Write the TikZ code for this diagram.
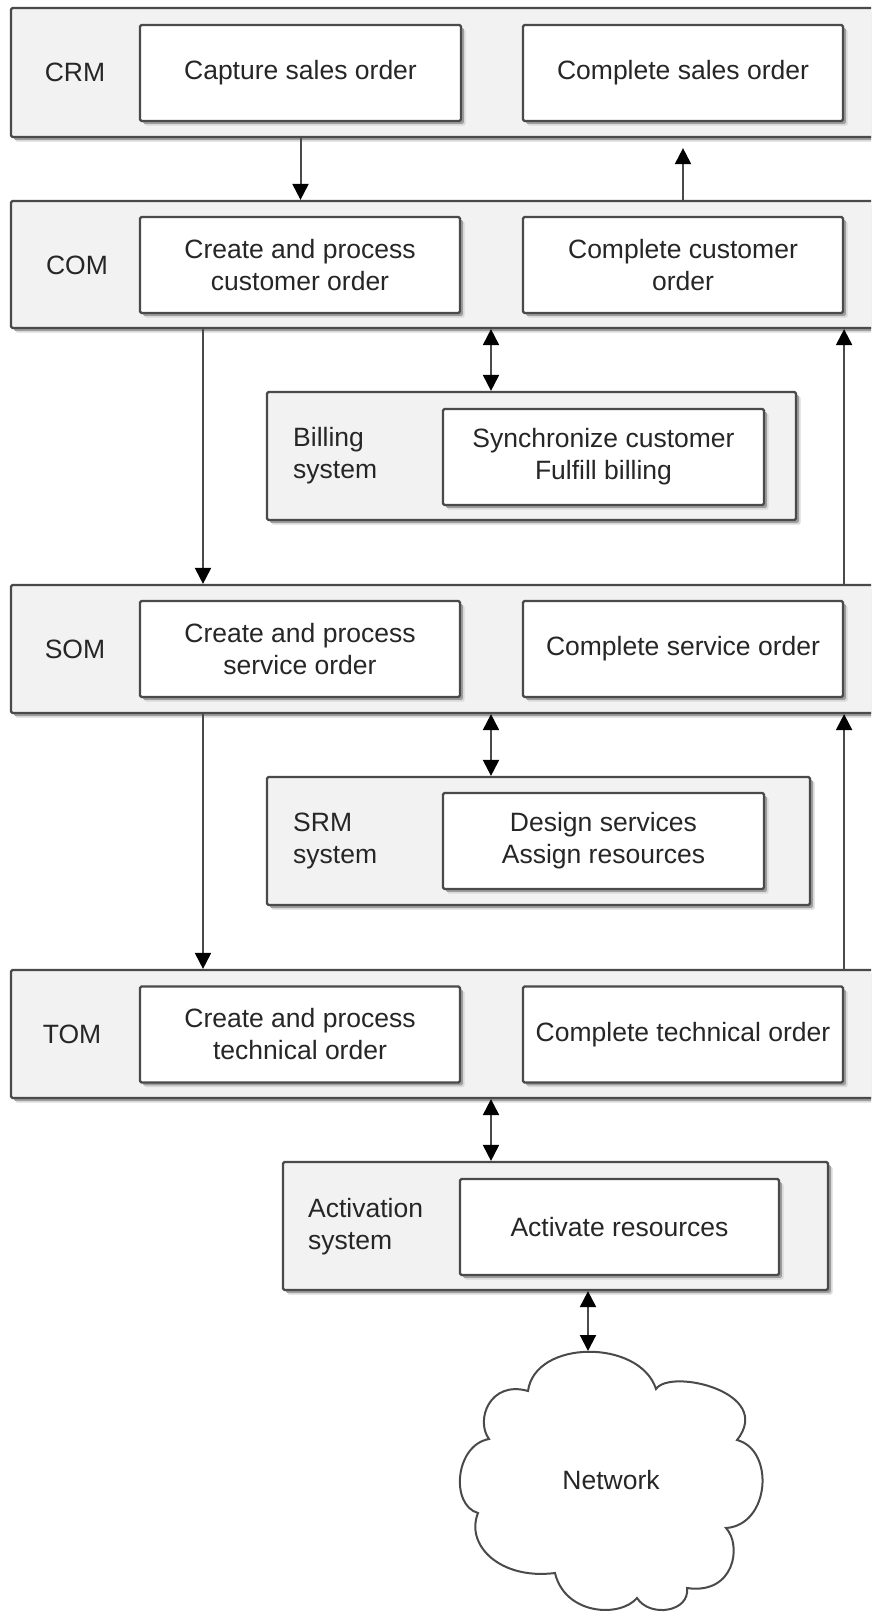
\documentclass[tikz,border=0pt]{standalone}
\usepackage{fontspec}
\setmainfont{Liberation Sans}
\usetikzlibrary{arrows.meta,shadows}
\definecolor{linec}{HTML}{4A4A4A}
\definecolor{outerfill}{HTML}{F2F2F2}
\definecolor{txt}{HTML}{262626}
\tikzset{
  base/.style={rectangle, inner sep=0pt, draw=linec, line width=2.2pt, rounded corners=1.5pt,
    drop shadow={shadow xshift=4.5pt, shadow yshift=-4.5pt, fill=black!15, opacity=1},
    drop shadow={shadow xshift=2.8pt, shadow yshift=-2.8pt, fill=black!38, opacity=1}},
  outerbox/.style={base, fill=outerfill},
  innerbox/.style={base, fill=white, text=txt, align=center, font=\fontsize{26.5}{32}\selectfont},
  lbl/.style={inner sep=0pt, text=txt, font=\fontsize{26.5}{32}\selectfont},
  tipstyle/.style={},
  arr/.style={draw=linec, line width=2pt, -{Triangle[length=16pt,width=16pt,fill=black,color=black]}},
  darr/.style={draw=linec, line width=2pt, {Triangle[length=16pt,width=16pt,fill=black,color=black]}-{Triangle[length=16pt,width=16pt,fill=black,color=black]}},
  cloudline/.style={draw=linec, line width=2pt, fill=white}
}
\begin{document}
\begin{tikzpicture}[x=1pt,y=-1pt]
\useasboundingbox (0,0) rectangle (871,1614);
\clip (0,0) rectangle (871,1614);
\fill[white] (0,0) rectangle (871,1614);

% CRM
\node[outerbox, minimum width=869pt, minimum height=129pt] (crm) at (445.5,72.5) {};
\node[lbl] (crml) at (75,72.5) {CRM};
\node[innerbox, minimum width=321pt, minimum height=96pt] (cap) at (300.5,73) {Capture sales order};
\node[innerbox, minimum width=320pt, minimum height=96pt] (csal) at (683,73) {Complete sales order};

% COM
\node[outerbox, minimum width=869pt, minimum height=127pt] (com) at (445.5,264.5) {};
\node[lbl] (coml) at (77,265) {COM};
\node[innerbox, minimum width=320pt, minimum height=96pt] (ccom) at (300,265) {Create and process\\customer order};
\node[innerbox, minimum width=320pt, minimum height=96pt] (ccus) at (683,265) {Complete customer\\order};

% Billing
\node[outerbox, minimum width=529pt, minimum height=128pt] (bill) at (531.5,456) {};
\node[lbl, anchor=west, align=left] (billl) at (293,456) {Billing\\system};
\node[innerbox, minimum width=321pt, minimum height=96pt] (billi) at (603.5,457) {Synchronize customer\\Fulfill billing};

% SOM
\node[outerbox, minimum width=869pt, minimum height=128pt] (som) at (445.5,649) {};
\node[lbl] (soml) at (75,649) {SOM};
\node[innerbox, minimum width=320pt, minimum height=96pt] (csom) at (300,649) {Create and process\\service order};
\node[innerbox, minimum width=320pt, minimum height=96pt] (csvc) at (683,649) {Complete service order};

% SRM
\node[outerbox, minimum width=543pt, minimum height=128pt] (srm) at (538.5,841) {};
\node[lbl, anchor=west, align=left] (srml) at (293,841) {SRM\\system};
\node[innerbox, minimum width=321pt, minimum height=96pt] (srmi) at (603.5,841) {Design services\\Assign resources};

% TOM
\node[outerbox, minimum width=869pt, minimum height=128pt] (tom) at (445.5,1034) {};
\node[lbl] (toml) at (72,1034) {TOM};
\node[innerbox, minimum width=320pt, minimum height=96pt] (ctom) at (300,1034.5) {Create and process\\technical order};
\node[innerbox, minimum width=320pt, minimum height=96pt] (ctec) at (683,1034.5) {Complete technical order};

% Activation
\node[outerbox, minimum width=545pt, minimum height=128pt] (act) at (555.5,1226) {};
\node[lbl, anchor=west, align=left] (actl) at (308,1227) {Activation\\system};
\node[innerbox, minimum width=319pt, minimum height=96pt] (acti) at (619.5,1227) {Activate resources};

% Network cloud
\draw[cloudline] (528,1391)
  .. controls (535,1339) and (640,1339) .. (656,1389)
  .. controls (670,1368) and (775,1392) .. (737,1440)
  .. controls (775,1450) and (770,1525) .. (726,1528)
  .. controls (742,1545) and (735,1595) .. (687,1588)
  .. controls (690,1612) and (650,1618) .. (637,1598)
  .. controls (620,1618) and (565,1615) .. (555,1573)
  .. controls (500,1580) and (465,1545) .. (478,1513)
  .. controls (450,1505) and (455,1445) .. (489,1439)
  .. controls (475,1420) and (490,1380) .. (528,1391) -- cycle;
\coordinate (cloudtop) at (588,1351);
\node[lbl] (net) at (611,1480) {Network};

% connectors
\draw[arr] (crm.south -| cap.center) -- (com.north -| cap.center);
\draw[arr] (com.north -| csal.center) -- ([yshift=-10pt]crm.south -| csal.center);
\draw[darr] (com.south -| 491,0) -- (bill.north -| 491,0);
\draw[arr] (com.south -| 203,0) -- (som.north -| 203,0);
\draw[arr] (som.north -| ccus.east) -- (com.south -| ccus.east);
\draw[darr] (som.south -| 491,0) -- (srm.north -| 491,0);
\draw[arr] (som.south -| 203,0) -- (tom.north -| 203,0);
\draw[arr] (tom.north -| csvc.east) -- (som.south -| csvc.east);
\draw[darr] (tom.south -| 491,0) -- (act.north -| 491,0);
\draw[darr] (act.south -| cloudtop) -- (cloudtop);
\end{tikzpicture}
\end{document}
